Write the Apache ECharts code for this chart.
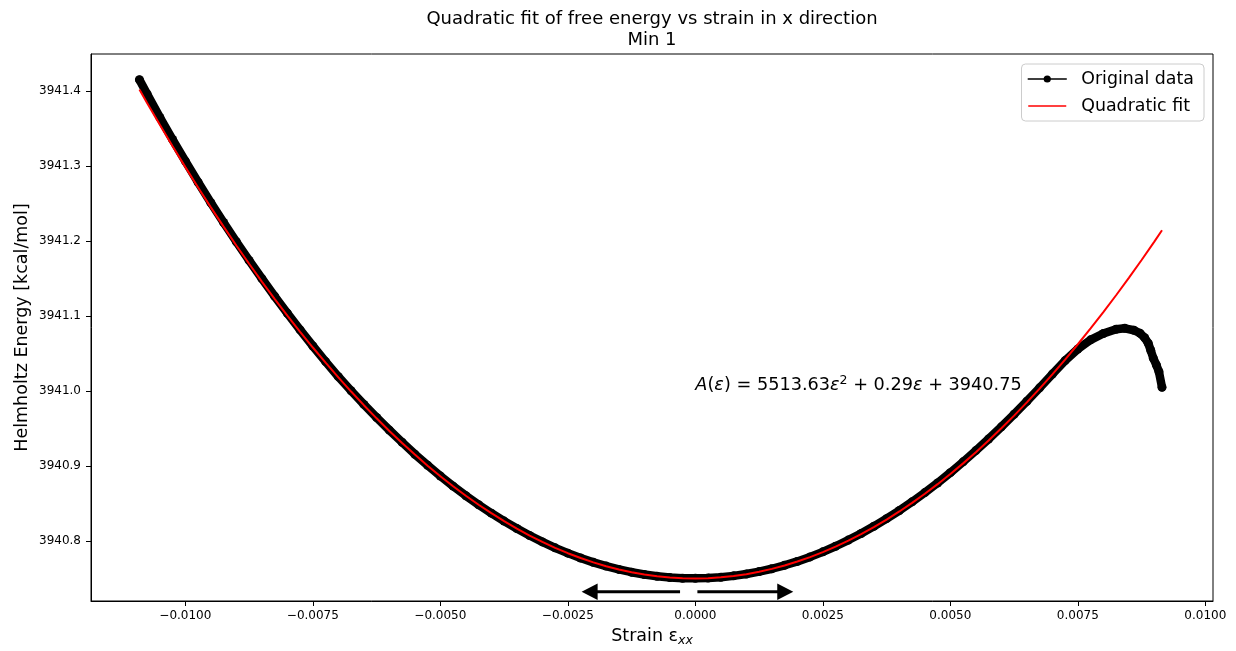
<!DOCTYPE html>
<html>
<head>
<meta charset="utf-8">
<script src="https://cdn.jsdelivr.net/npm/echarts@6/dist/echarts.min.js"></script>
<style>
  html, body { margin: 0; padding: 0; background: #ffffff; }
  #chart { width: 1236px; height: 651px; }
</style>
</head>
<body>
<div id="chart"></div>
<script>
// Free energy samples along the x-strain path (Min 1)
const strainData = [
  -0.0109, -0.01075, -0.0105, -0.01025, -0.0100, -0.00975, -0.0095, -0.00925,
  -0.0090, -0.00875, -0.0085, -0.00825, -0.0080, -0.00775, -0.0075, -0.00725,
  -0.0070, -0.00675, -0.0065, -0.00625, -0.0060, -0.00575, -0.0055, -0.00525,
  -0.0050, -0.00475, -0.0045, -0.00425, -0.0040, -0.00375, -0.0035, -0.00325,
  -0.0030, -0.00275, -0.0025, -0.00225, -0.0020, -0.00175, -0.0015, -0.00125,
  -0.0010, -0.00075, -0.0005, -0.00025, 0.0, 0.00025, 0.0005, 0.00075,
  0.0010, 0.00125, 0.0015, 0.00175, 0.0020, 0.00225, 0.0025, 0.00275,
  0.0030, 0.00325, 0.0035, 0.00375, 0.0040, 0.00425, 0.0045, 0.00475,
  0.0050, 0.00525, 0.0055, 0.00575, 0.0060, 0.00625, 0.0065, 0.00675,
  0.0070, 0.00725, 0.0075, 0.00775, 0.0080, 0.00825,
  0.00842, 0.0086, 0.00872, 0.00881, 0.00888, 0.00893, 0.00898, 0.00904, 0.00909, 0.00915
];
const energyData = [
  3941.4149, 3941.3961, 3941.3648, 3941.3353, 3941.3065, 3941.2783, 3941.2509, 3941.2246,
  3941.1990, 3941.1741, 3941.1499, 3941.1264, 3941.1036, 3941.0814, 3941.0600, 3941.0392,
  3941.0191, 3941.0003, 3940.9821, 3940.9646, 3940.9478, 3940.9316, 3940.9157, 3940.9010,
  3940.8866, 3940.8731, 3940.8604, 3940.8484, 3940.8371, 3940.8265, 3940.8166, 3940.8073,
  3940.7988, 3940.7909, 3940.7838, 3940.7773, 3940.7715, 3940.7665, 3940.7621, 3940.7584,
  3940.7553, 3940.7530, 3940.7514, 3940.7504, 3940.7502, 3940.7506, 3940.7517, 3940.7535,
  3940.7560, 3940.7592, 3940.7630, 3940.7676, 3940.7728, 3940.7788, 3940.7855, 3940.7930,
  3940.8012, 3940.8100, 3940.8196, 3940.8298, 3940.8406, 3940.8522, 3940.8645, 3940.8774,
  3940.8911, 3940.9055, 3940.9205, 3940.9360, 3940.9522, 3940.9690, 3940.9863, 3941.0042,
  3941.0225, 3941.0405, 3941.0560, 3941.0682, 3941.0766, 3941.0823,
  3941.0836, 3941.0810, 3941.0769, 3941.0710, 3941.0636, 3941.0540, 3941.0436, 3941.0347, 3941.0257, 3941.0050
];

// Quadratic fit A(e) = a*e^2 + b*e + c, tabulated over the sampled strain range
const fitCoefficients = [5513.63, 0.29, 3940.75];
const fitStrain = [
  -0.0109, -0.01075, -0.0105, -0.01025, -0.0100, -0.00975, -0.0095, -0.00925,
  -0.0090, -0.00875, -0.0085, -0.00825, -0.0080, -0.00775, -0.0075, -0.00725,
  -0.0070, -0.00675, -0.0065, -0.00625, -0.0060, -0.00575, -0.0055, -0.00525,
  -0.0050, -0.00475, -0.0045, -0.00425, -0.0040, -0.00375, -0.0035, -0.00325,
  -0.0030, -0.00275, -0.0025, -0.00225, -0.0020, -0.00175, -0.0015, -0.00125,
  -0.0010, -0.00075, -0.0005, -0.00025, 0.0, 0.00025, 0.0005, 0.00075,
  0.0010, 0.00125, 0.0015, 0.00175, 0.0020, 0.00225, 0.0025, 0.00275,
  0.0030, 0.00325, 0.0035, 0.00375, 0.0040, 0.00425, 0.0045, 0.00475,
  0.0050, 0.00525, 0.0055, 0.00575, 0.0060, 0.00625, 0.0065, 0.00675,
  0.0070, 0.00725, 0.0075, 0.00775, 0.0080, 0.00825, 0.0085, 0.00875,
  0.0090, 0.00915
];
const fitEnergy = [
  3941.40191, 3941.38405, 3941.35483, 3941.32630, 3941.29846, 3941.27131, 3941.24485, 3941.21908,
  3941.19399, 3941.16960, 3941.14590, 3941.12288, 3941.10055, 3941.07892, 3941.05797, 3941.03771,
  3941.01814, 3940.99926, 3940.98107, 3940.96356, 3940.94675, 3940.93063, 3940.91519, 3940.90045,
  3940.88639, 3940.87302, 3940.86035, 3940.84836, 3940.83706, 3940.82645, 3940.81653, 3940.80730,
  3940.79875, 3940.79090, 3940.78374, 3940.77726, 3940.77147, 3940.76638, 3940.76197, 3940.75825,
  3940.75522, 3940.75288, 3940.75123, 3940.75027, 3940.75000, 3940.75042, 3940.75152, 3940.75332,
  3940.75580, 3940.75898, 3940.76284, 3940.76739, 3940.77264, 3940.77857, 3940.78519, 3940.79250,
  3940.80049, 3940.80918, 3940.81856, 3940.82862, 3940.83938, 3940.85082, 3940.86296, 3940.87578,
  3940.88929, 3940.90349, 3940.91838, 3940.93396, 3940.95023, 3940.96719, 3940.98484, 3941.00317,
  3941.02220, 3941.04191, 3941.06232, 3941.08334, 3941.10519, 3941.12767, 3941.15083, 3941.17468,
  3941.19921, 3941.21427
];

// Axis ticks
const xTickValues = [-0.01, -0.0075, -0.005, -0.0025, 0, 0.0025, 0.005, 0.0075, 0.01];
const xTickLabels = ['\u22120.0100', '\u22120.0075', '\u22120.0050', '\u22120.0025', '0.0000', '0.0025', '0.0050', '0.0075', '0.0100'];
const yTickValues = [3940.8, 3940.9, 3941.0, 3941.1, 3941.2, 3941.3, 3941.4];
const yTickLabels = ['3940.8', '3940.9', '3941.0', '3941.1', '3941.2', '3941.3', '3941.4'];

// Direction arrows under the minimum (tail strain, tip strain) at one energy level
const arrowStarts = [-0.0003, 0.00004];
const arrowTips = [-0.00223, 0.00192];
const arrowLevel = 3940.7324;

// Anchor of the fit equation text
const annotationAnchor = [0, 3941.0];

const FONT = 'DejaVu Sans';

function pickLabel(values, labels, v) {
  for (let i = 0; i < values.length; i++) {
    if (Math.abs(values[i] - v) < 1e-9) return labels[i];
  }
  return '';
}

const originalPoints = strainData.map((s, i) => [s, energyData[i]]);
const fitPoints = fitStrain.map((s, i) => [s, fitEnergy[i]]);
const arrowData = arrowStarts.map((s, i) => [s, arrowTips[i], arrowLevel]);

const c = fitCoefficients;
const equationText = '{i|A}({i|\u03b5}) = ' + c[0].toFixed(2) + '{i|\u03b5}{sup|2} + ' +
  c[1].toFixed(2) + '{i|\u03b5} + ' + c[2].toFixed(2);

const chart = echarts.init(document.getElementById('chart'), null, { renderer: 'canvas' });

chart.setOption({
  animation: false,
  backgroundColor: '#ffffff',
  textStyle: { fontFamily: FONT },
  graphic: [
    {
      type: 'text', x: 652, y: 19, silent: true,
      style: {
        text: 'Quadratic fit of free energy vs strain in x direction',
        fill: '#000', font: '18px "DejaVu Sans"', textAlign: 'center', textVerticalAlign: 'middle'
      }
    },
    {
      type: 'text', x: 652, y: 40, silent: true,
      style: {
        text: 'Min 1',
        fill: '#000', font: '18px "DejaVu Sans"', textAlign: 'center', textVerticalAlign: 'middle'
      }
    }
  ],
  grid: {
    left: 91, right: 23, top: 54, bottom: 50,
    show: true, borderColor: '#000', borderWidth: 1, backgroundColor: 'transparent',
    containLabel: false, outerBoundsMode: 'none'
  },
  legend: {
    orient: 'vertical',
    right: 32, top: 64,
    padding: [6, 10, 6, 6],
    itemGap: 9,
    itemWidth: 38,
    itemHeight: 9,
    backgroundColor: 'rgba(255,255,255,0.8)',
    borderColor: '#cccccc',
    borderWidth: 1,
    borderRadius: 4,
    selectedMode: false,
    textStyle: { fontSize: 17.4, lineHeight: 18, color: '#000', fontFamily: FONT, padding: [0, 0, 0, 10] },
    data: [
      { name: 'Original data', itemStyle: { color: '#000' }, lineStyle: { width: 1.5, color: '#000' } },
      { name: 'Quadratic fit', itemStyle: { color: 'rgba(0,0,0,0)', borderWidth: 0 }, lineStyle: { width: 1.5, color: '#ff0000' } }
    ]
  },
  xAxis: {
    type: 'value',
    min: -0.01185,
    max: 0.01015,
    name: 'Strain \u03b5{sub|xx}',
    nameLocation: 'middle',
    nameGap: 24,
    nameMoveOverlap: false,
    nameTextStyle: {
      fontSize: 17.5, lineHeight: 22, color: '#000', fontFamily: FONT,
      rich: { sub: { fontSize: 12.5, lineHeight: 12, fontStyle: 'italic', verticalAlign: 'bottom', fontFamily: FONT, color: '#000' } }
    },
    axisLine: { show: true, onZero: false, lineStyle: { color: '#000', width: 1 } },
    axisTick: { show: true, inside: false, length: 5, lineStyle: { color: '#000', width: 1 }, customValues: xTickValues },
    axisLabel: {
      show: true, margin: 9, fontSize: 12, color: '#000', fontFamily: FONT,
      customValues: xTickValues,
      formatter: (v) => pickLabel(xTickValues, xTickLabels, v)
    },
    splitLine: { show: false }
  },
  yAxis: {
    type: 'value',
    min: 3940.72,
    max: 3941.4493,
    name: 'Helmholtz Energy [kcal/mol]',
    nameLocation: 'middle',
    nameGap: 58,
    nameMoveOverlap: false,
    nameTextStyle: { fontSize: 17.5, lineHeight: 22, color: '#000', fontFamily: FONT },
    axisLine: { show: true, onZero: false, lineStyle: { color: '#000', width: 1 } },
    axisTick: { show: true, inside: false, length: 5, lineStyle: { color: '#000', width: 1 }, customValues: yTickValues },
    axisLabel: {
      show: true, margin: 10, fontSize: 12, color: '#000', fontFamily: FONT,
      customValues: yTickValues,
      formatter: (v) => pickLabel(yTickValues, yTickLabels, v)
    },
    splitLine: { show: false }
  },
  series: [
    {
      name: 'Original data',
      type: 'line',
      data: originalPoints,
      symbol: 'circle',
      symbolSize: 9,
      showSymbol: true,
      showAllSymbol: true,
      itemStyle: { color: '#000' },
      lineStyle: { color: '#000', width: 8.5, join: 'round', cap: 'round' },
      emphasis: { disabled: true },
      silent: true,
      z: 2
    },
    {
      name: 'Quadratic fit',
      type: 'line',
      data: fitPoints,
      symbol: 'none',
      showSymbol: false,
      smooth: false,
      itemStyle: { color: '#ff0000' },
      lineStyle: { color: '#ff0000', width: 2 },
      emphasis: { disabled: true },
      silent: true,
      z: 3
    },
    {
      name: 'arrows',
      type: 'custom',
      data: arrowData,
      encode: { x: [0, 1], y: 2 },
      silent: true,
      z: 4,
      renderItem: (params, api) => {
        const a = api.coord([api.value(0), api.value(2)]);
        const b = api.coord([api.value(1), api.value(2)]);
        const dir = Math.sign(b[0] - a[0]);
        const headLen = 16, headHalf = 8.3;
        const baseX = b[0] - dir * headLen;
        return {
          type: 'group',
          children: [
            { type: 'line', shape: { x1: a[0], y1: a[1], x2: baseX + dir, y2: b[1] }, style: { stroke: '#000', lineWidth: 3 } },
            { type: 'polygon', shape: { points: [[b[0], b[1]], [baseX, b[1] - headHalf], [baseX, b[1] + headHalf]] }, style: { fill: '#000' } }
          ]
        };
      }
    },
    {
      name: 'equation',
      type: 'custom',
      data: [annotationAnchor],
      encode: { x: 0, y: 1 },
      silent: true,
      z: 5,
      renderItem: (params, api) => {
        const p = api.coord([api.value(0), api.value(1)]);
        return {
          type: 'text',
          x: p[0],
          y: p[1] - 6,
          style: {
            text: equationText,
            fill: '#000',
            fontSize: 17.7,
            fontFamily: FONT,
            lineHeight: 22,
            align: 'left',
            verticalAlign: 'middle',
            rich: {
              i: { fontStyle: 'italic', fontSize: 17.7, lineHeight: 22, fontFamily: FONT, fill: '#000' },
              sup: { fontSize: 12.5, lineHeight: 12, verticalAlign: 'top', fontFamily: FONT, fill: '#000' }
            }
          }
        };
      }
    }
  ]
});
</script>
</body>
</html>
